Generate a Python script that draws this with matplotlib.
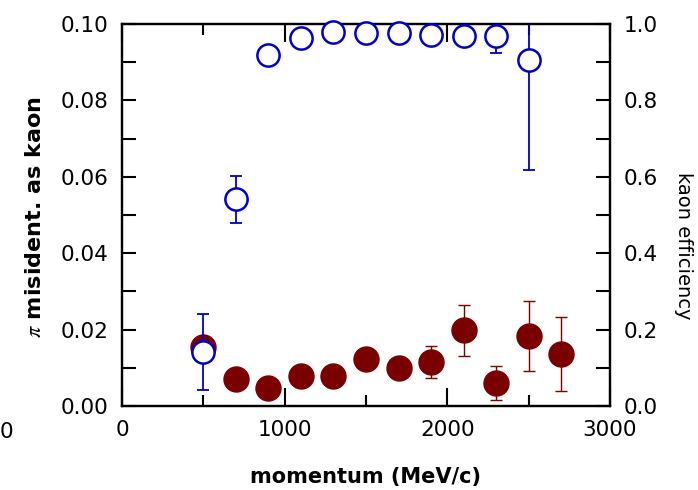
import matplotlib
matplotlib.use('Agg')
import matplotlib.pyplot as plt
from matplotlib.ticker import MultipleLocator, FormatStrFormatter

plt.rcParams['font.family'] = ['DejaVu Sans']
plt.rcParams['mathtext.fontset'] = 'stix'

# momentum bins (MeV/c)
momentum = [500, 700, 900, 1100, 1300, 1500, 1700, 1900, 2100, 2300, 2500, 2700]

# pion misidentified as kaon (left axis)
pi_misid = [0.0155, 0.0070, 0.0048, 0.0079, 0.0079, 0.0122, 0.0099, 0.0116, 0.0198, 0.0060, 0.0183, 0.0136]
pi_misid_err = [0.0010, 0.0008, 0.0008, 0.0009, 0.0009, 0.0010, 0.0010, 0.0042, 0.0066, 0.0044, 0.0091, 0.0097]

# kaon efficiency (right axis)
k_mom = [500, 700, 900, 1100, 1300, 1500, 1700, 1900, 2100, 2300, 2500]
k_eff = [0.141, 0.541, 0.919, 0.964, 0.978, 0.977, 0.977, 0.971, 0.969, 0.969, 0.906]
k_eff_err = [0.100, 0.061, 0.008, 0.018, 0.025, 0.025, 0.025, 0.022, 0.010, 0.044, 0.288]

red = '#7a0000'
blue = '#0000c8'

fig = plt.figure(figsize=(6.98, 4.9), dpi=100)
ax = fig.add_axes([0.1748, 0.1714, 0.6991, 0.7796])
ax2 = ax.twinx()

ax.errorbar(momentum, pi_misid, yerr=pi_misid_err, fmt='none', ecolor=red,
            elinewidth=1.0, capsize=4, capthick=1.0, zorder=2)
ax.plot(momentum, pi_misid, 'o', color=red, markersize=18, zorder=3, clip_on=False)

ax2.errorbar(k_mom, k_eff, yerr=k_eff_err, fmt='none', ecolor=blue,
             elinewidth=1.3, capsize=4, capthick=1.3, zorder=2)
ax2.plot(k_mom, k_eff, 'o', mfc='white', mec=blue, mew=1.8, markersize=16,
         zorder=3, clip_on=False)

ax.set_xlim(0, 3000)
ax.set_ylim(0, 0.10)
ax2.set_ylim(0, 1.0)

ax.xaxis.set_major_locator(MultipleLocator(1000))
ax.xaxis.set_minor_locator(MultipleLocator(500))
ax.yaxis.set_major_locator(MultipleLocator(0.02))
ax.yaxis.set_minor_locator(MultipleLocator(0.01))
ax2.yaxis.set_major_locator(MultipleLocator(0.2))
ax2.yaxis.set_minor_locator(MultipleLocator(0.1))
ax.yaxis.set_major_formatter(FormatStrFormatter('%.2f'))
ax2.yaxis.set_major_formatter(FormatStrFormatter('%.1f'))

ax.tick_params(axis='x', which='both', direction='in', top=True, labelsize=15.5, pad=10)
ax.tick_params(axis='x', which='major', length=13, width=1.5)
ax.tick_params(axis='x', which='minor', length=8, width=1.5)
ax.tick_params(axis='y', which='both', direction='in', length=10, width=1.5, labelsize=15.5, pad=10)
ax2.tick_params(axis='y', which='both', direction='in', length=10, width=1.5, labelsize=15.5, pad=10)

for a in (ax, ax2):
    for s in a.spines.values():
        s.set_linewidth(1.6)

ax.set_xlabel('momentum (MeV/c)', fontsize=15, fontweight='bold', va='center')
ax.xaxis.set_label_coords(0.5, -0.186)
ax.set_ylabel(r'$\pi$ misident. as kaon', fontsize=16, fontweight='bold', va='center')
ax.yaxis.set_label_coords(-0.178, 0.495)
ax2.set_ylabel('kaon efficiency', fontsize=14, rotation=-90, va='center')
ax2.yaxis.set_label_coords(1.15, 0.42)

fig.text(0 / 698, 1 - 432 / 490, '0', fontsize=15.5, ha='left', va='center')

fig.savefig('out.png', dpi=100)
